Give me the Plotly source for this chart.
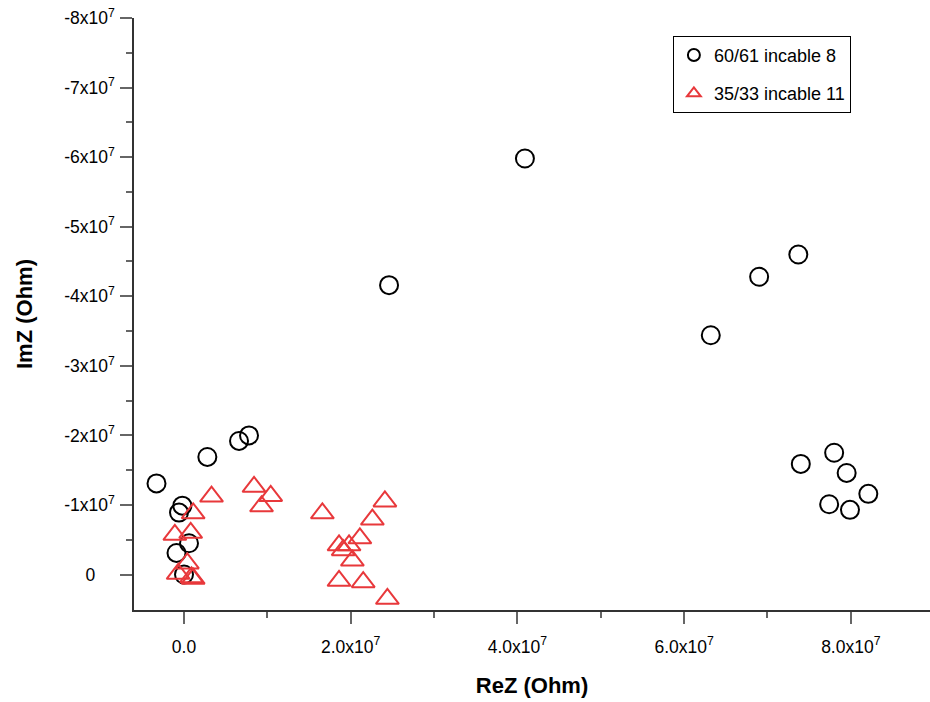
import numpy as np
import plotly.graph_objects as go

# Impedance data, values in units of 1e7 Ohm
SCALE = 1e7

# 60/61 incable 8
re_60 = [4.09, 2.46, 7.37, 6.90, 6.32, 7.80, 7.40, 7.95, 8.21, 7.74, 7.99,
         -0.33, 0.28, 0.66, 0.78, -0.02, -0.06, 0.06, -0.09, 0.00]
im_60 = [-5.98, -4.16, -4.60, -4.28, -3.44, -1.75, -1.59, -1.46, -1.16, -1.01, -0.93,
         -1.31, -1.69, -1.92, -2.00, -0.99, -0.89, -0.45, -0.31, 0.00]

# 35/33 incable 11
re_35 = [0.33, 0.11, -0.11, 0.08, 0.04, -0.07, 0.09, 0.11, 0.84, 1.04, 0.93,
         1.66, 2.41, 2.26, 2.11, 1.86, 1.98, 1.91, 2.02, 1.86, 2.15, 2.44]
im_35 = [-1.12, -0.88, -0.57, -0.60, -0.16, -0.01, 0.04, 0.06, -1.26, -1.13, -0.98,
         -0.88, -1.05, -0.79, -0.52, -0.42, -0.42, -0.35, -0.20, 0.09, 0.11, 0.35]

# Axis ticks
x_tick_vals = [0, 2, 4, 6, 8]
x_tick_text = ["0.0", "2.0x10<sup>7</sup>", "4.0x10<sup>7</sup>",
               "6.0x10<sup>7</sup>", "8.0x10<sup>7</sup>"]
y_tick_vals = [0, -1, -2, -3, -4, -5, -6, -7, -8]
# the zero label is padded so it sits centred under the wider labels
y_tick_text = ["0\u2007\u2007"] + [f"-{k}x10<sup>7</sup>" for k in range(1, 9)]

FONT = "Liberation Sans, Arial, sans-serif"
RED = "#e8383b"

fig = go.Figure()

fig.add_trace(go.Scatter(
    x=np.array(re_60) * SCALE, y=np.array(im_60) * SCALE,
    mode="markers", name="60/61 incable 8", legendgroup="a",
    marker=dict(symbol="circle-open", size=18, color="black",
                line=dict(color="black", width=2)),
))
fig.add_trace(go.Scatter(
    x=np.array(re_35) * SCALE, y=np.array(im_35) * SCALE,
    mode="markers", name="35/33 incable 11", legendgroup="b",
    marker=dict(symbol="triangle-up-open", size=20, color=RED,
                line=dict(color=RED, width=2)),
))

fig.update_layout(
    width=930, height=702,
    margin=dict(l=134, r=0, t=18, b=92),
    paper_bgcolor="white", plot_bgcolor="white",
    font=dict(family=FONT, size=17, color="black"),
    showlegend=True,
    legend=dict(
        x=0.677, y=0.97, xanchor="left", yanchor="top",
        bordercolor="black", borderwidth=1, bgcolor="white",
        font=dict(family=FONT, size=18, color="black"),
        itemsizing="constant", tracegroupgap=12,
    ),
    xaxis=dict(
        range=[-0.6 * SCALE, 8.95 * SCALE],
        tickmode="array",
        tickvals=[v * SCALE for v in x_tick_vals], ticktext=x_tick_text,
        ticks="outside", ticklen=12, tickwidth=1.5, tickcolor="#666666",
        minor=dict(tickvals=[v * SCALE for v in [1, 3, 5, 7]], ticks="outside",
                   ticklen=6, tickwidth=1.5, tickcolor="#666666"),
        showline=True, linecolor="#333333", linewidth=1.5,
        showgrid=False, zeroline=False, ticklabelstandoff=8,
        tickfont=dict(family=FONT, size=17.5),
        title=dict(text="<b>ReZ (Ohm)</b>", font=dict(family=FONT, size=22), standoff=22),
    ),
    yaxis=dict(
        range=[0.51 * SCALE, -8 * SCALE],
        tickmode="array",
        tickvals=[v * SCALE for v in y_tick_vals], ticktext=y_tick_text,
        ticks="outside", ticklen=12, tickwidth=1.5, tickcolor="#666666",
        minor=dict(tickvals=[(-0.5 - k) * SCALE for k in range(8)], ticks="outside",
                   ticklen=6, tickwidth=1.5, tickcolor="#666666"),
        showline=True, linecolor="#333333", linewidth=1.5,
        showgrid=False, zeroline=False, ticklabelstandoff=2,
        tickfont=dict(family=FONT, size=17.5),
        title=dict(text="<b>ImZ (Ohm)</b>", font=dict(family=FONT, size=22), standoff=25),
    ),
)

fig.write_html("out.html")
